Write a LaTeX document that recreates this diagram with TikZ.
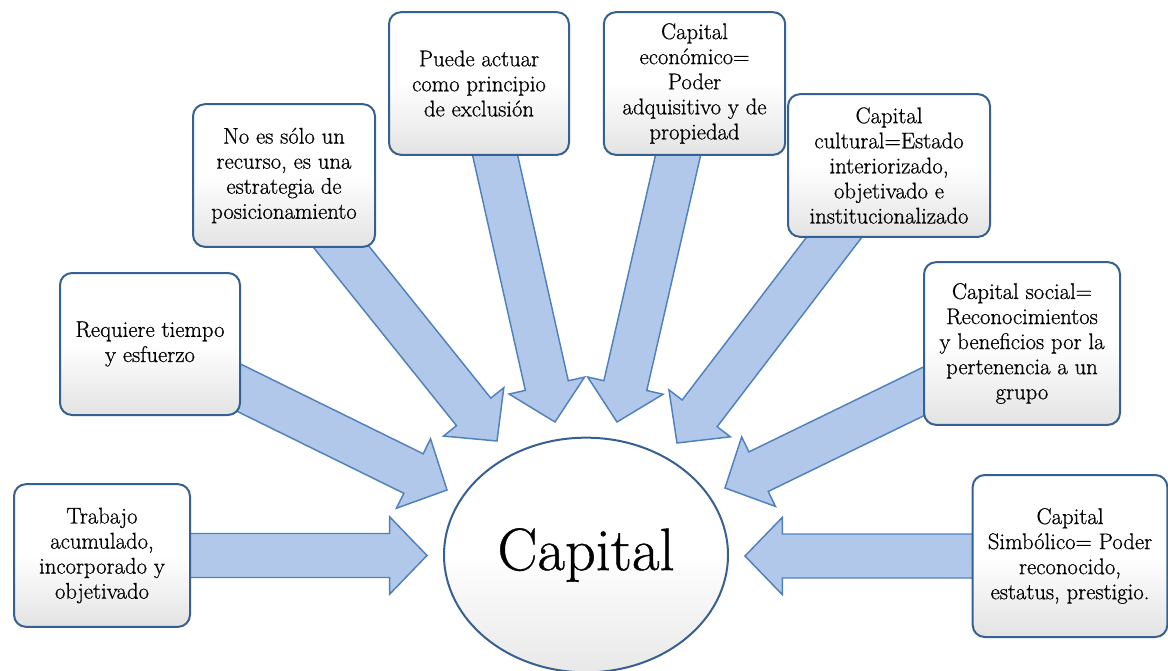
\documentclass[tikz,border=0pt]{standalone}
\usepackage{fontspec}
\newfontfamily\diagfont{Latin Modern Roman}[FakeBold=0.7]
\usepackage{tikz}
\usetikzlibrary{shapes.geometric, calc, backgrounds}

\definecolor{boxedge}{RGB}{54,96,146}
\definecolor{arrowfill}{RGB}{178,200,234}
\definecolor{arrowedge}{RGB}{79,129,189}

\tikzset{
	idea/.style={draw=boxedge, line width=1.5pt, rounded corners=9pt,
		top color=white, bottom color=black!11, middle color=white,
		align=center, inner sep=2pt,
		font=\diagfont\fontsize{17}{18.8}\selectfont},
	blockarrow/.style={draw=arrowedge, line width=1.1pt, fill=arrowfill,
		line join=miter}
}

% wide arrow from #1 to #2
\newcommand{\blockarrow}[2]{%
	\coordinate (ba-s) at (#1);
	\coordinate (ba-e) at (#2);
	\coordinate (ba-h) at ($(ba-e)!\headlen!(ba-s)$);
	\draw[blockarrow] ($(ba-s)!\shaftw!90:(ba-e)$)
		-- ($(ba-h)!\shaftw!-90:(ba-s)$) -- ($(ba-h)!\headw!-90:(ba-s)$)
		-- (ba-e)
		-- ($(ba-h)!\headw!90:(ba-s)$) -- ($(ba-h)!\shaftw!90:(ba-s)$)
		-- ($(ba-s)!\shaftw!-90:(ba-e)$) -- cycle;
}

\begin{document}
\begin{tikzpicture}[x=0.75pt, y=-0.75pt]
	\def \headlen {28pt}
	\def \headw {29pt}
	\def \shaftw {16.5pt}

	\useasboundingbox (0,0) rectangle (1168,671);

	\node[draw=boxedge, line width=1.5pt, ellipse, top color=white,
		bottom color=black!9, middle color=white, minimum width=213pt,
		minimum height=176pt, inner sep=0pt,
		font=\diagfont\fontsize{45}{54}\selectfont] (capital) at (586,555)
		{Capital};

	\node[idea, minimum width=132pt, minimum height=107pt] (trabajo) at (102,555.5)
		{Trabajo\\acumulado,\\incorporado y\\objetivado};
	\node[idea, minimum width=135pt, minimum height=106.5pt] (tiempo) at (150,344)
		{Requiere tiempo\\y esfuerzo};
	\node[idea, minimum width=136.5pt, minimum height=107pt] (estrategia) at (284,175.5)
		{No es sólo un\\recurso, es una\\estrategia de\\posicionamiento};
	\node[idea, minimum width=135pt, minimum height=107pt] (exclusion) at (479,83.5)
		{Puede actuar\\como principio\\de exclusión};
	\node[idea, minimum width=136pt, minimum height=107pt] (economico) at (694.5,83.5)
		{Capital\\económico=\\Poder\\adquisitivo y de\\propiedad};
	\node[idea, minimum width=151.5pt, minimum height=107pt] (cultural) at (889,165.5)
		{Capital\\cultural=Estado\\interiorizado,\\objetivado e\\institucionalizado};
	\node[idea, minimum width=147pt, minimum height=122pt] (social) at (1022,343.5)
		{Capital social=\\Reconocimientos\\y beneficios por la\\pertenencia a un\\grupo};
	\node[idea, minimum width=146pt, minimum height=121.5pt] (simbolico) at (1070,556)
		{Capital\\Simbólico= Poder\\reconocido,\\estatus, prestigio.};

	% arrow tips round the ellipse
	\coordinate (tip-trabajo) at (427,555.5);
	\coordinate (tip-tiempo) at (447,490);
	\coordinate (tip-estrategia) at (497,441);
	\coordinate (tip-exclusion) at (555,422);
	\coordinate (tip-economico) at (617,422);
	\coordinate (tip-cultural) at (677,443);
	\coordinate (tip-social) at (725,488);
	\coordinate (tip-simbolico) at (745,556);

	\begin{scope}[on background layer]
		\blockarrow{trabajo.center}{tip-trabajo}
		\blockarrow{tiempo.center}{tip-tiempo}
		\blockarrow{estrategia.center}{tip-estrategia}
		\blockarrow{exclusion.center}{tip-exclusion}
		\blockarrow{economico.center}{tip-economico}
		\blockarrow{cultural.center}{tip-cultural}
		\blockarrow{social.center}{tip-social}
		\blockarrow{simbolico.center}{tip-simbolico}
	\end{scope}
\end{tikzpicture}
\end{document}
